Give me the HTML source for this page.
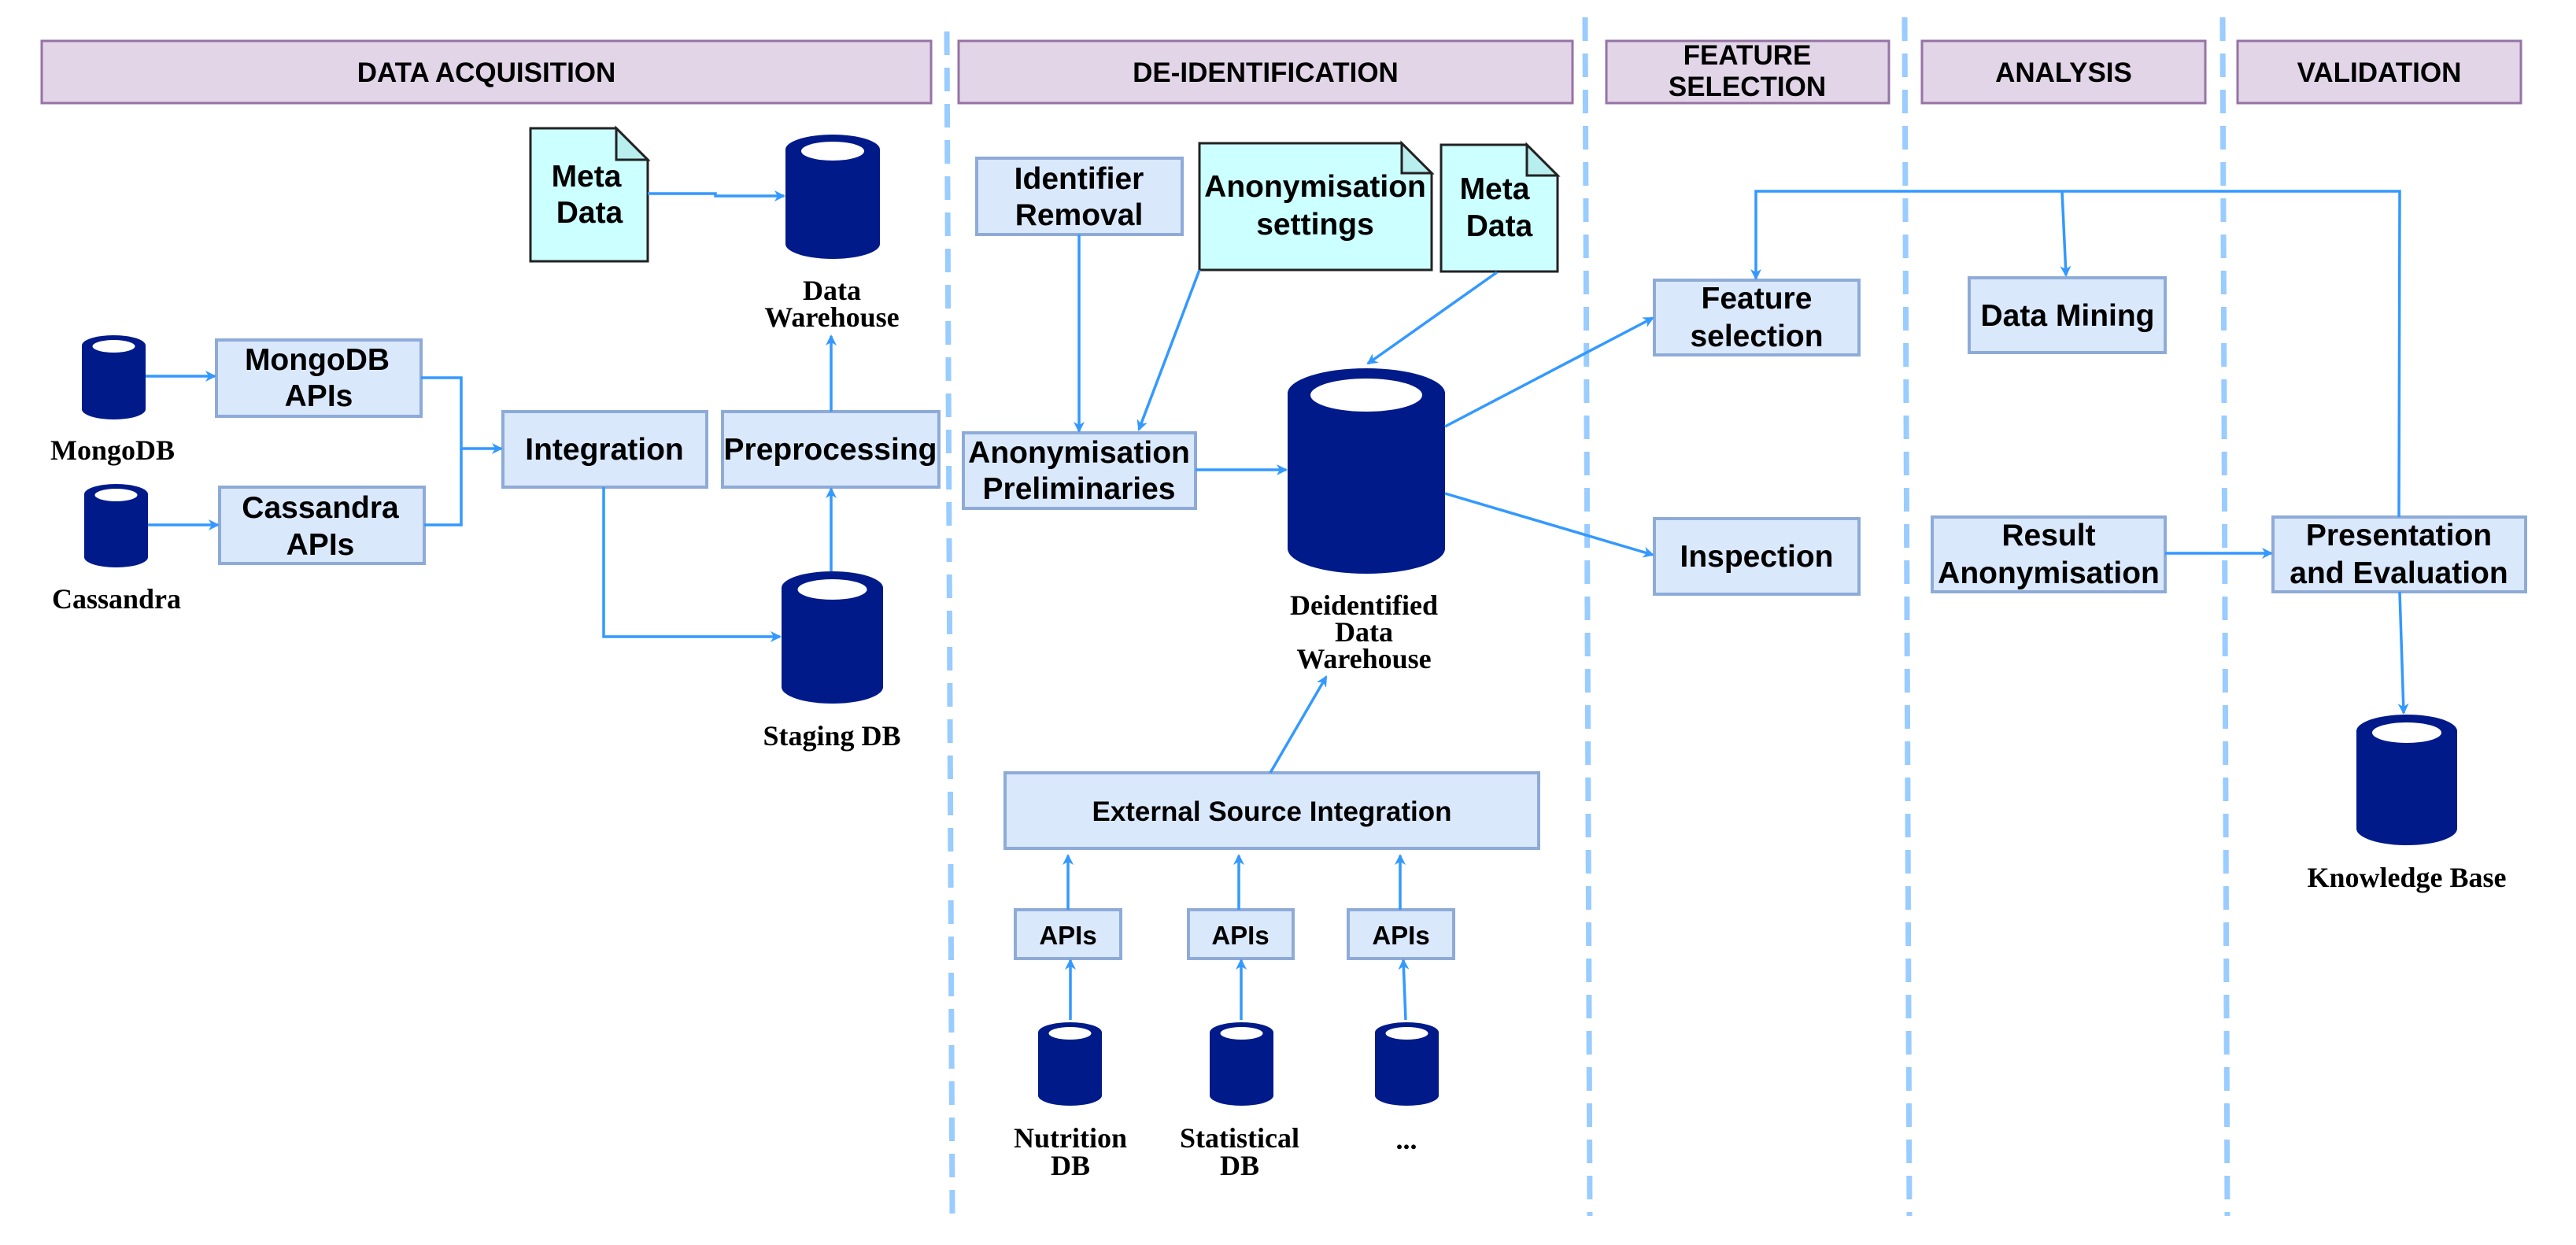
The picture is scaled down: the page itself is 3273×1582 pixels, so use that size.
<!DOCTYPE html>
<html><head><meta charset="utf-8"><style>
html,body{margin:0;padding:0;background:#fff;}
svg{display:block;}
.h{font-family:"Liberation Sans",sans-serif;font-weight:bold;font-size:35px;fill:#000;text-anchor:middle;}
.b{font-family:"Liberation Sans",sans-serif;font-weight:bold;font-size:39px;fill:#000;text-anchor:middle;}
.s{font-family:"Liberation Serif",serif;font-weight:bold;font-size:36px;fill:#000;text-anchor:middle;}
.hd{fill:#e1d5e7;stroke:#9673a6;stroke-width:3;}
.bx{fill:#dae8fc;stroke:#8eabd8;stroke-width:4;}
.nt{fill:#ccffff;stroke:#222;stroke-width:3;}
.fd{fill:#b8eeee;stroke:#222;stroke-width:3;}
.dv{stroke:#99ccff;stroke-width:7;stroke-dasharray:30 16;fill:none;}
.ar{stroke:#3399ff;stroke-width:3.5;fill:none;}
.cy{fill:#001a8a;}
</style></head><body>
<svg width="3273" height="1582" viewBox="0 0 3273 1582" xmlns="http://www.w3.org/2000/svg">
<defs>
<marker id="a" markerWidth="14" markerHeight="14" refX="12" refY="7" orient="auto" markerUnits="userSpaceOnUse">
<path d="M0,0 L14,7 L0,14 L4,7 Z" fill="#3399ff"/>
</marker>
</defs>

<line class="dv" x1="1203" y1="40" x2="1210" y2="1545"/>
<line class="dv" x1="2014" y1="22" x2="2020" y2="1545"/>
<line class="dv" x1="2420" y1="22" x2="2426" y2="1545"/>
<line class="dv" x1="2824" y1="22" x2="2830" y2="1545"/>

<rect class="hd" x="53" y="52" width="1130" height="79"/>
<text class="h" x="618" y="104">DATA ACQUISITION</text>
<rect class="hd" x="1218" y="52" width="780" height="79"/>
<text class="h" x="1608" y="104">DE-IDENTIFICATION</text>
<rect class="hd" x="2041" y="52" width="359" height="79"/>
<text class="h" x="2220" y="82">FEATURE</text>
<text class="h" x="2220" y="122">SELECTION</text>
<rect class="hd" x="2442" y="52" width="360" height="79"/>
<text class="h" x="2622" y="104">ANALYSIS</text>
<rect class="hd" x="2843" y="52" width="360" height="79"/>
<text class="h" x="3023" y="104">VALIDATION</text>

<g class="cy">
<rect x="998" y="190" width="120" height="120"/><ellipse cx="1058" cy="190" rx="60" ry="19"/><ellipse cx="1058" cy="310" rx="60" ry="19"/>
<rect x="104" y="439" width="81" height="81"/><ellipse cx="144.5" cy="439" rx="40.5" ry="13"/><ellipse cx="144.5" cy="520" rx="40.5" ry="13"/>
<rect x="107" y="628" width="81" height="80"/><ellipse cx="147.5" cy="628" rx="40.5" ry="13"/><ellipse cx="147.5" cy="708" rx="40.5" ry="13"/>
<rect x="993" y="747" width="129" height="126"/><ellipse cx="1057.5" cy="747" rx="64.5" ry="21"/><ellipse cx="1057.5" cy="873" rx="64.5" ry="21"/>
<rect x="1636" y="500" width="200" height="197"/><ellipse cx="1736" cy="500" rx="100" ry="32"/><ellipse cx="1736" cy="697" rx="100" ry="32"/>
<rect x="2994" y="929" width="128" height="124"/><ellipse cx="3058" cy="929" rx="64" ry="21"/><ellipse cx="3058" cy="1053" rx="64" ry="21"/>
<rect x="1319" y="1312" width="81" height="80"/><ellipse cx="1359.5" cy="1312" rx="40.5" ry="13"/><ellipse cx="1359.5" cy="1392" rx="40.5" ry="13"/>
<rect x="1537" y="1312" width="81" height="80"/><ellipse cx="1577.5" cy="1312" rx="40.5" ry="13"/><ellipse cx="1577.5" cy="1392" rx="40.5" ry="13"/>
<rect x="1747" y="1312" width="81" height="80"/><ellipse cx="1787.5" cy="1312" rx="40.5" ry="13"/><ellipse cx="1787.5" cy="1392" rx="40.5" ry="13"/>
</g>
<g fill="#fff">
<ellipse cx="1058" cy="192" rx="40" ry="12"/>
<ellipse cx="144.5" cy="440" rx="27" ry="8"/>
<ellipse cx="147.5" cy="629" rx="27" ry="8"/>
<ellipse cx="1057.5" cy="749" rx="44" ry="13"/>
<ellipse cx="1736" cy="502" rx="71" ry="21"/>
<ellipse cx="3058" cy="931" rx="44" ry="13"/>
<ellipse cx="1359.5" cy="1313" rx="27" ry="8"/>
<ellipse cx="1577.5" cy="1313" rx="27" ry="8"/>
<ellipse cx="1787.5" cy="1313" rx="27" ry="8"/>
</g>

<text class="s" x="1057" y="381">Data</text>
<text class="s" x="1057" y="415">Warehouse</text>
<text class="s" x="143" y="584">MongoDB</text>
<text class="s" x="148" y="773">Cassandra</text>
<text class="s" x="1057" y="947">Staging DB</text>
<text class="s" x="1733" y="781">Deidentified</text>
<text class="s" x="1733" y="815">Data</text>
<text class="s" x="1733" y="849">Warehouse</text>
<text class="s" x="3058" y="1127">Knowledge Base</text>
<text class="s" x="1360" y="1458">Nutrition</text>
<text class="s" x="1360" y="1493">DB</text>
<text class="s" x="1575" y="1458">Statistical</text>
<text class="s" x="1575" y="1493">DB</text>
<text class="s" x="1787" y="1460">...</text>

<path class="nt" d="M674,163 H783 L823,203 V332 H674 Z"/><path class="fd" d="M783,163 V203 H823 Z"/>
<text class="b" x="745" y="237">Meta</text><text class="b" x="749" y="283">Data</text>
<path class="nt" d="M1524,182 H1781 L1819,220 V343 H1524 Z"/><path class="fd" d="M1781,182 V220 H1819 Z"/>
<text class="b" x="1671" y="250">Anonymisation</text><text class="b" x="1671" y="298">settings</text>
<path class="nt" d="M1831,184 H1940 L1979,223 V345 H1831 Z"/><path class="fd" d="M1940,184 V223 H1979 Z"/>
<text class="b" x="1899" y="253">Meta</text><text class="b" x="1905" y="300">Data</text>

<rect class="bx" x="275" y="432" width="260" height="97"/>
<text class="b" x="403" y="470">MongoDB</text><text class="b" x="405" y="516">APIs</text>
<rect class="bx" x="279" y="619" width="260" height="97"/>
<text class="b" x="407" y="658">Cassandra</text><text class="b" x="407" y="705">APIs</text>
<rect class="bx" x="639" y="523" width="259" height="96"/>
<text class="b" x="768" y="584">Integration</text>
<rect class="bx" x="918" y="523" width="275" height="96"/>
<text class="b" x="1055" y="584">Preprocessing</text>
<rect class="bx" x="1241" y="201" width="261" height="97"/>
<text class="b" x="1371" y="240">Identifier</text><text class="b" x="1371" y="286">Removal</text>
<rect class="bx" x="1224" y="550" width="295" height="96"/>
<text class="b" x="1371" y="588">Anonymisation</text><text class="b" x="1371" y="634">Preliminaries</text>
<rect class="bx" x="1277" y="982" width="678" height="96"/>
<text class="h" x="1616" y="1043">External Source Integration</text>
<rect class="bx" x="1290" y="1156" width="134" height="62"/><text class="h" x="1357" y="1200" style="font-size:33px">APIs</text>
<rect class="bx" x="1510" y="1156" width="133" height="62"/><text class="h" x="1576" y="1200" style="font-size:33px">APIs</text>
<rect class="bx" x="1713" y="1156" width="134" height="62"/><text class="h" x="1780" y="1200" style="font-size:33px">APIs</text>
<rect class="bx" x="2102" y="356" width="260" height="95"/>
<text class="b" x="2232" y="392">Feature</text><text class="b" x="2232" y="440">selection</text>
<rect class="bx" x="2102" y="659" width="260" height="96"/>
<text class="b" x="2232" y="720">Inspection</text>
<rect class="bx" x="2502" y="353" width="249" height="95"/>
<text class="b" x="2627" y="414">Data Mining</text>
<rect class="bx" x="2455" y="657" width="296" height="95"/>
<text class="b" x="2603" y="693">Result</text><text class="b" x="2603" y="741">Anonymisation</text>
<rect class="bx" x="2888" y="657" width="321" height="95"/>
<text class="b" x="3048" y="693">Presentation</text><text class="b" x="3048" y="741">and Evaluation</text>

<g class="ar">
<path d="M823,246 H909 V249 H996" marker-end="url(#a)"/>
<path d="M185,478 H273" marker-end="url(#a)"/>
<path d="M188,667 H277" marker-end="url(#a)"/>
<path d="M535,480 H586 V570 H637" marker-end="url(#a)"/>
<path d="M539,667 H586 V570"/>
<path d="M1056,523 V427" marker-end="url(#a)"/>
<path d="M767,619 V809 H991" marker-end="url(#a)"/>
<path d="M1056,726 V621" marker-end="url(#a)"/>
<path d="M1371,298 V548" marker-end="url(#a)"/>
<path d="M1524,343 L1447,546" marker-end="url(#a)"/>
<path d="M1902,346 L1738,462" marker-end="url(#a)"/>
<path d="M1519,597 H1634" marker-end="url(#a)"/>
<path d="M1836,542 L2100,404" marker-end="url(#a)"/>
<path d="M1836,627 L2100,705" marker-end="url(#a)"/>
<path d="M1614,982 L1685,860" marker-end="url(#a)"/>
<path d="M1357,1156 V1087" marker-end="url(#a)"/>
<path d="M1574,1156 V1087" marker-end="url(#a)"/>
<path d="M1779,1156 V1087" marker-end="url(#a)"/>
<path d="M1360,1296 V1220" marker-end="url(#a)"/>
<path d="M1577,1296 V1220" marker-end="url(#a)"/>
<path d="M1786,1296 L1783,1220" marker-end="url(#a)"/>
<path d="M3048,657 L3049,243 H2231 V354" marker-end="url(#a)"/>
<path d="M2620,243 L2625,350" marker-end="url(#a)"/>
<path d="M2751,703 H2886" marker-end="url(#a)"/>
<path d="M3049,752 L3054,906" marker-end="url(#a)"/>
</g>
</svg>
</body></html>
